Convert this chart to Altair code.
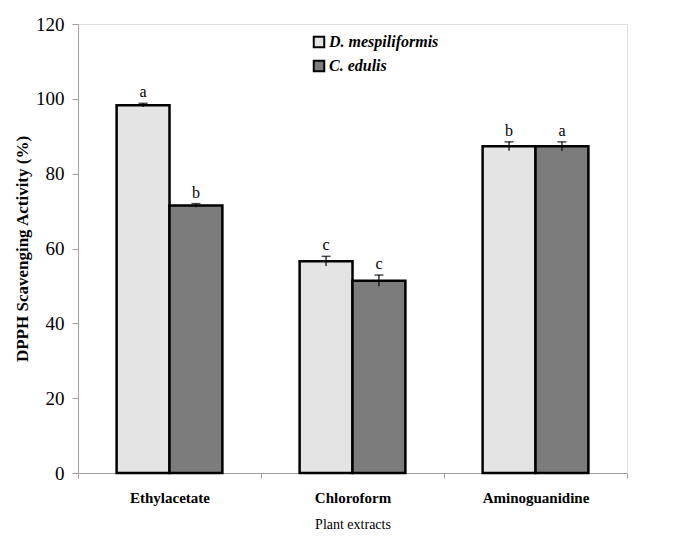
import altair as alt
import pandas as pd

categories = ["Ethylacetate", "Chloroform", "Aminoguanidine"]
species = ["D. mespiliformis", "C. edulis"]
d_mesp = [98.3, 56.6, 87.3]
c_edulis = [71.5, 51.4, 87.3]
d_err = [0.5, 1.3, 1.2]
c_err = [0.5, 1.5, 1.2]
d_letters = ["a", "c", "b"]
c_letters = ["b", "c", "a"]

rows = []
for i, c in enumerate(categories):
    rows.append({"cat": c, "sp": species[0], "val": d_mesp[i], "err": d_err[i], "lab": d_letters[i]})
    rows.append({"cat": c, "sp": species[1], "val": c_edulis[i], "err": c_err[i], "lab": c_letters[i]})
df = pd.DataFrame(rows)
df["lo"] = df["val"] - df["err"]
df["hi"] = df["val"] + df["err"]

FONT = "Liberation Serif"

x = alt.X("cat:N", sort=categories, scale=alt.Scale(paddingInner=0, paddingOuter=0),
          axis=alt.Axis(title="Plant extracts", labelAngle=0, labelFont=FONT, labelFontSize=15,
                        labelFontWeight="bold", labelColor="black", labelPadding=12,
                        titleFont=FONT, titleFontSize=14, titleFontWeight="normal", titleColor="black",
                        titlePadding=12, tickBand="extent", tickSize=5, tickColor="#a0a0a0",
                        domainColor="#a0a0a0"))
xo = alt.XOffset("sp:N", sort=species, scale=alt.Scale(paddingInner=0, paddingOuter=0.73))

base = alt.Chart(df)

bars = base.mark_bar(stroke="black", strokeWidth=2.5).encode(
    x=x, xOffset=xo,
    y=alt.Y("val:Q", scale=alt.Scale(domain=[0, 120], nice=False),
            axis=alt.Axis(title="DPPH Scavenging Activity (%)", values=[0, 20, 40, 60, 80, 100, 120],
                          grid=False, labelFont=FONT, labelFontSize=19, labelColor="black",
                          labelPadding=8, tickSize=6, tickColor="#a0a0a0", domainColor="#a0a0a0",
                          titleFont=FONT, titleFontSize=17, titleFontWeight="bold", titleColor="black",
                          titlePadding=4)),
    fill=alt.Fill("sp:N", sort=species,
                  scale=alt.Scale(domain=species, range=["#e4e4e4", "#7c7c7c"]),
                  legend=alt.Legend(title=None, orient="none", legendX=233, legendY=10,
                                    symbolType="square", symbolSize=110, symbolStrokeColor="black",
                                    symbolStrokeWidth=2, labelFont=FONT, labelFontSize=16,
                                    labelFontStyle="italic", labelFontWeight="bold",
                                    labelColor="black", rowPadding=4, symbolOffset=0, labelOffset=2)),
)

rule = base.mark_rule(color="black", strokeWidth=1.2).encode(
    x=x, xOffset=xo, y="lo:Q", y2="hi:Q")
caps = base.mark_tick(color="black", thickness=1.5, size=9, orient="horizontal").encode(
    x=x, xOffset=xo, y="hi:Q")
texts = base.mark_text(font=FONT, fontSize=16, color="black", dy=-11).encode(
    x=x, xOffset=xo, y="hi:Q", text="lab:N")

chart = alt.layer(bars, rule, caps, texts).properties(
    width=549, height=449,
    autosize=alt.AutoSizeParams(type="none"),
    padding={"left": 70, "top": 16, "right": 56, "bottom": 64},
).configure_view(stroke=None).configure(background="white")

chart.save("out.html", embed_options={"renderer": "svg", "actions": False})
